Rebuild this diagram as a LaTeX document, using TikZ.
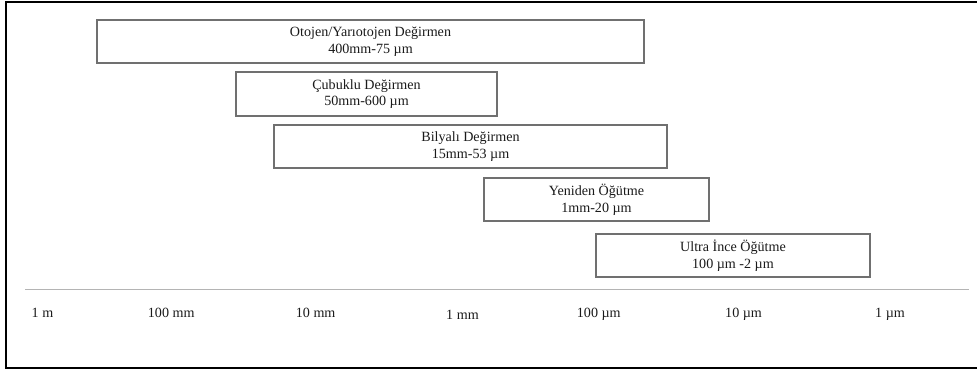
\documentclass[tikz,border=0pt]{standalone}
\usepackage{fontspec}
\setmainfont{Liberation Serif}
\definecolor{boxline}{HTML}{707070}
\definecolor{axisline}{HTML}{B4B4B4}
\definecolor{txt}{HTML}{1A1A1A}
\begin{document}
\begin{tikzpicture}[x=1pt,y=-1pt,
  millbox/.style={draw=boxline,line width=1.2pt,rectangle,inner sep=0pt,
    align=center,text=txt,font=\fontsize{14.1}{16.7}\selectfont},
  scalelabel/.style={anchor=base west,inner sep=0pt,text=txt,font=\fontsize{14.1}{16.7}\selectfont}]
\useasboundingbox (0,0) rectangle (977,374);
% frame
\coordinate (ftr) at (977,2);
\coordinate (ftl) at (6,2);
\coordinate (fbl) at (6,367.8);
\coordinate (fbr) at (977,367.8);
\draw[line width=2.5pt,black] (ftr) -- (ftl) -- (fbl) -- (fbr);
% boxes
\node[millbox,minimum width=547pt,minimum height=43pt] (b1) at (370.5,41.5) {Otojen/Yarıotojen Değirmen\\400mm-75 µm};
\node[millbox,minimum width=261pt,minimum height=44pt] (b2) at (366.5,94) {Çubuklu Değirmen\\50mm-600 µm};
\node[millbox,minimum width=393pt,minimum height=43pt] (b3) at (470.5,146.5) {Bilyalı Değirmen\\15mm-53 µm};
\node[millbox,minimum width=225pt,minimum height=43pt] (b4) at (596.5,199.5) {Yeniden Öğütme\\1mm-20 µm};
\node[millbox,minimum width=274pt,minimum height=43pt] (b5) at (733,255.5) {Ultra İnce Öğütme\\100 µm -2 µm};
% axis
\coordinate (al) at (25,289.3);
\coordinate (ar) at (969,289.3);
\draw[axisline,line width=1.5pt] (al) -- (ar);
\node[scalelabel] (l1) at (31.5,317) {1 m};
\node[scalelabel] (l2) at (147.7,317) {100 mm};
\node[scalelabel] (l3) at (295.7,317) {10 mm};
\node[scalelabel] (l4) at (446,319) {1 mm};
\node[scalelabel] (l5) at (576.7,317) {100 µm};
\node[scalelabel] (l6) at (725,317) {10 µm};
\node[scalelabel] (l7) at (875,317) {1 µm};
\end{tikzpicture}
\end{document}
